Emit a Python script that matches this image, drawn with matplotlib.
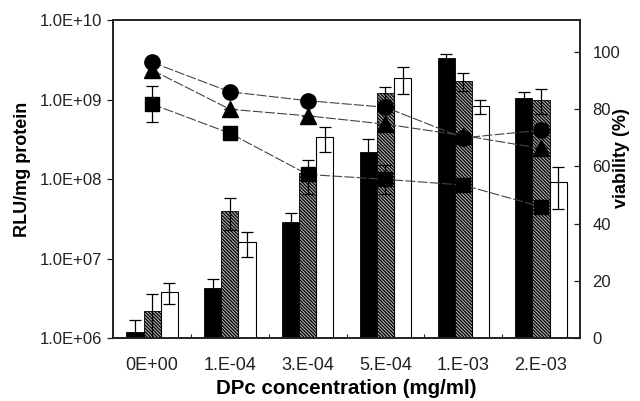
import matplotlib
matplotlib.use("Agg")
import matplotlib.pyplot as plt
import numpy as np

plt.rcParams['font.family'] = ['Liberation Sans', 'DejaVu Sans']
plt.rcParams['hatch.linewidth'] = 0.9

# DPc concentrations (mg/ml)
conc_labels = ["0E+00", "1.E-04", "3.E-04", "5.E-04", "1.E-03", "2.E-03"]

# luciferase activity, RLU/mg protein (three complexes)
rlu_black = [1.18e6, 4.3e6, 2.9e7, 2.2e8, 3.3e9, 1.05e9]
rlu_black_err = [0.5e6, 1.3e6, 0.8e7, 0.96e8, 0.4e9, 0.21e9]
rlu_hatch = [2.2e6, 4.0e7, 1.2e8, 1.22e9, 1.71e9, 1.0e9]
rlu_hatch_err = [1.4e6, 1.7e7, 0.55e8, 0.23e9, 0.44e9, 0.35e9]
rlu_white = [3.8e6, 1.6e7, 3.35e8, 1.88e9, 8.3e8, 9.1e7]
rlu_white_err = [1.1e6, 0.55e7, 1.15e8, 0.72e9, 1.7e8, 4.9e7]

# cell viability (%)
via_circle = [96.4, 86.1, 83.0, 80.7, 70.0, 72.7]
via_circle_err = [1.5, 0, 0, 0, 0, 0]
via_triangle = [93.7, 80.0, 77.7, 74.8, 70.8, 66.3]
via_triangle_err = [1.5, 0, 0, 0, 0, 0]
via_square = [81.8, 71.6, 57.2, 55.5, 53.5, 45.9]
via_square_err = [6.3, 0, 0, 5.0, 0, 0]

x = np.arange(len(conc_labels))
w = 0.22
spine_col = '#1c2328'

fig = plt.figure(figsize=(6.40, 4.01), dpi=100)
ax = fig.add_axes([0.177, 0.157, 0.729, 0.793])

ekw = dict(ecolor='black', elinewidth=0.9, capsize=4, capthick=0.9)
ax.bar(x - w, rlu_black, w, color='black', edgecolor='black', linewidth=0.6,
       yerr=rlu_black_err, error_kw=ekw, zorder=2)
ax.bar(x, rlu_hatch, w, color='#b0b0b0', edgecolor='black', linewidth=0.6,
       hatch='\\' * 10, yerr=rlu_hatch_err, error_kw=ekw, zorder=2)
ax.bar(x + w, rlu_white, w, color='white', edgecolor='black', linewidth=0.8,
       yerr=rlu_white_err, error_kw=ekw, zorder=2)

ax.set_yscale('log')
ax.set_ylim(1e6, 1e10)
ax.set_xlim(-0.5, 5.5)
ax.set_yticks([1e6, 1e7, 1e8, 1e9, 1e10])
ax.set_yticklabels(["1.0E+06", "1.0E+07", "1.0E+08", "1.0E+09", "1.0E+10"])
ax.yaxis.set_minor_locator(matplotlib.ticker.NullLocator())
ax.tick_params(axis='y', direction='out', length=4, width=0.9, labelsize=12,
               colors=spine_col, labelcolor='#222222', pad=4)

ax.set_xticks(x)
ax.set_xticklabels(conc_labels)
ax.set_xticks(np.arange(0.5, 5.5, 1), minor=True)
ax.tick_params(axis='x', which='major', length=0, labelsize=13, pad=14,
               labelcolor='#222222')
ax.tick_params(axis='x', which='minor', direction='in', length=3, width=0.8,
               colors=spine_col)

ax.set_ylabel("RLU/mg protein", fontsize=13, fontweight='bold')
ax.yaxis.set_label_coords(-0.176, 0.53)
ax.set_xlabel("DPc concentration (mg/ml)", fontsize=14.8, fontweight='bold',
              labelpad=3)

ax2 = ax.twinx()
ax2.set_ylim(0, 111.2)
ax2.set_yticks([0, 20, 40, 60, 80, 100])
ax2.tick_params(axis='y', direction='in', length=4, width=0.9, labelsize=12,
                colors=spine_col, labelcolor='#222222', pad=9)
ax2.set_ylabel("viability (%)", fontsize=13, fontweight='bold')
ax2.yaxis.set_label_coords(1.071, 0.566)

lkw = dict(color='#444444', linewidth=0.8, linestyle=(0, (9, 2)),
           markerfacecolor='black', markeredgecolor='black',
           ecolor='black', elinewidth=0.9, capsize=4, capthick=0.9)
ax2.errorbar(x, via_square, yerr=via_square_err, marker='s', markersize=10, **lkw)
ax2.errorbar(x, via_triangle, yerr=via_triangle_err, marker='^', markersize=11, **lkw)
ax2.errorbar(x, via_circle, yerr=via_circle_err, marker='o', markersize=11, **lkw)

for a in (ax, ax2):
    for s in a.spines.values():
        s.set_linewidth(1.2)
        s.set_color(spine_col)

fig.savefig("out.png", dpi=100)
